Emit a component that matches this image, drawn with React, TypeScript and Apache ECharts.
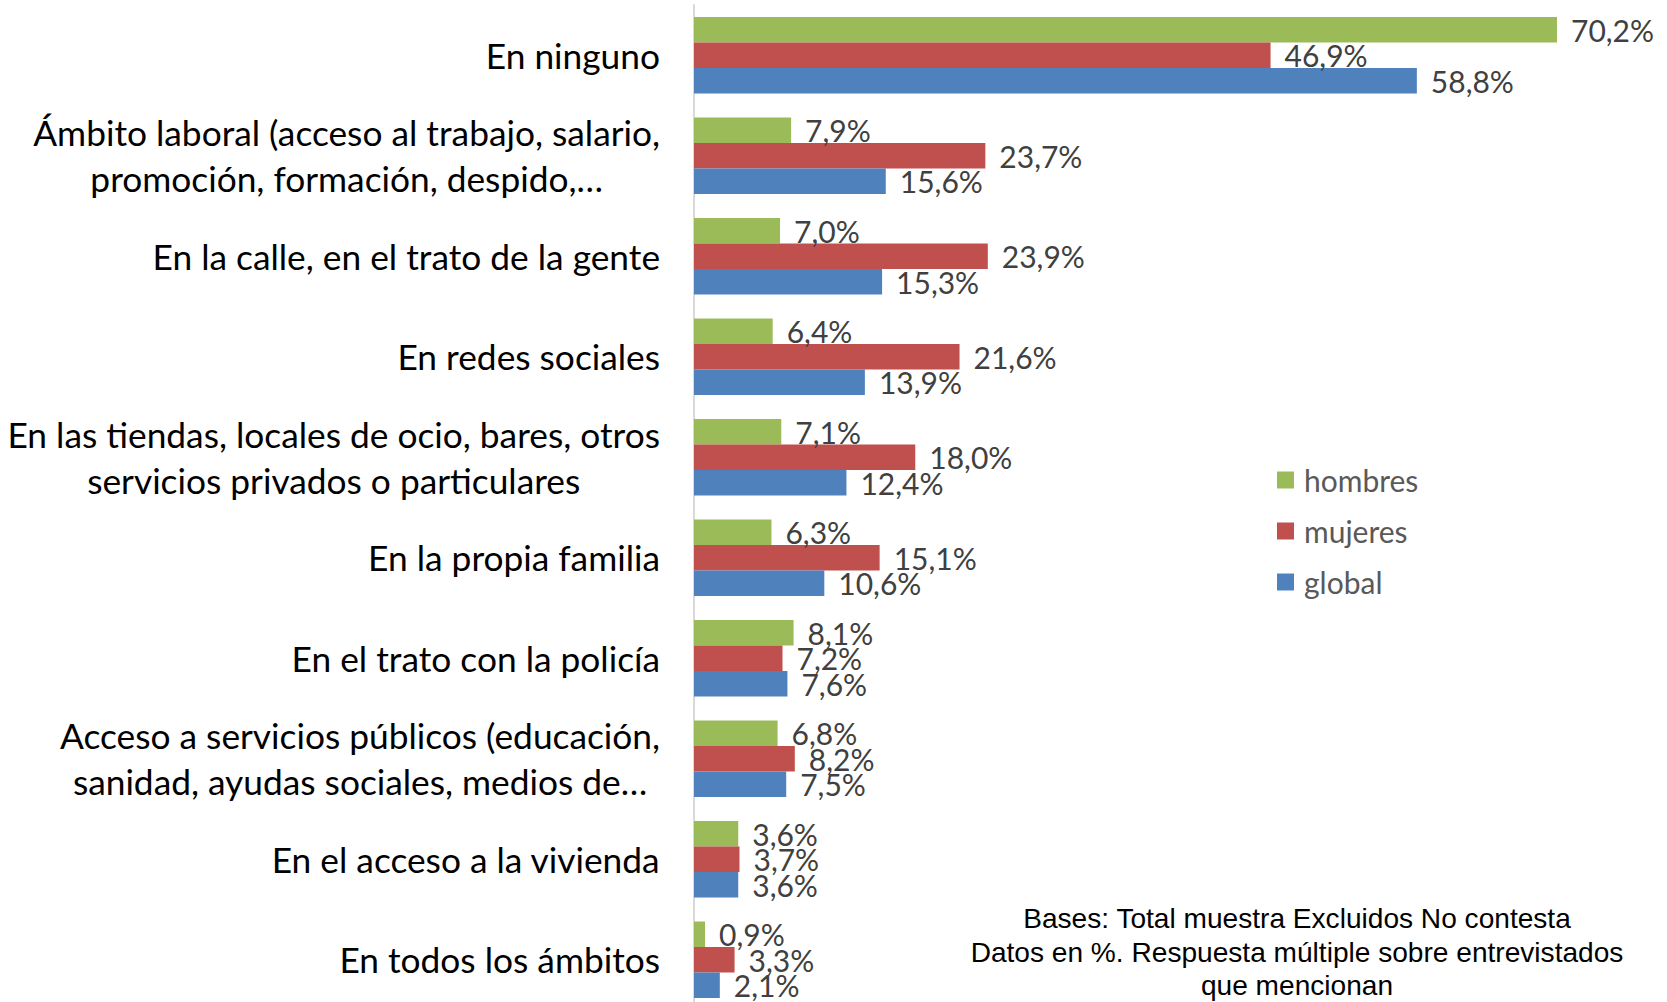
import React, { useEffect, useRef } from "react";
import * as echarts from "echarts";

const categories = [
  "En ninguno",
  "Ámbito laboral (acceso al trabajo, salario,\npromoción, formación, despido,…",
  "En la calle, en el trato de la gente",
  "En redes sociales",
  "En las tiendas, locales de ocio, bares, otros\nservicios privados o particulares",
  "En la propia familia",
  "En el trato con la policía",
  "Acceso a servicios públicos (educación,\nsanidad, ayudas sociales, medios de…",
  "En el acceso a la vivienda",
  "En todos los ámbitos",
];
const hombres = [70.2, 7.9, 7.0, 6.4, 7.1, 6.3, 8.1, 6.8, 3.6, 0.9];
const mujeres = [46.9, 23.7, 23.9, 21.6, 18.0, 15.1, 7.2, 8.2, 3.7, 3.3];
const global = [58.8, 15.6, 15.3, 13.9, 12.4, 10.6, 7.6, 7.5, 3.6, 2.1];
const seriesNames = ["hombres", "mujeres", "global"];
const noteLines = [
  "Bases: Total muestra Excluidos No contesta",
  "Datos en %. Respuesta múltiple sobre entrevistados",
  "que mencionan",
];

const FONT = "Lato, 'Open Sans', sans-serif";
const colors = ["#9BBB59", "#C0504D", "#4F81BD"];

const fmt = (v: number) => v.toFixed(1).replace(".", ",") + "%";

export default function App() {
  const ref = useRef<HTMLDivElement>(null);
  useEffect(() => {
    if (!ref.current) return;
    const chart = echarts.init(ref.current, null, { renderer: "svg" });
    const dataSets = [hombres, mujeres, global];
    chart.setOption({
      animation: false,
      backgroundColor: "#ffffff",
      grid: {
        left: 694,
        width: 922,
        top: 5,
        height: 1005,
        containLabel: false,
        outerBoundsMode: "none",
      },
      legend: {
        orient: "vertical",
        left: 1272,
        top: 458,
        itemWidth: 17,
        itemHeight: 17,
        itemGap: 17,
        icon: "rect",
        data: seriesNames,
        textStyle: {
          fontFamily: FONT,
          fontSize: 30,
          lineHeight: 34,
          color: "#595959",
          padding: [0, 0, 0, 5],
        },
      },
      xAxis: {
        type: "value",
        min: 0,
        max: 75,
        show: false,
        splitLine: { show: false },
      },
      yAxis: {
        type: "category",
        inverse: true,
        data: categories,
        axisTick: { show: false },
        axisLine: { show: true, lineStyle: { color: "#D9D9D9", width: 2 } },
        axisLabel: {
          margin: 34,
          align: "right",
          formatter: (v: string) =>
            v
              .split("\n")
              .map((l) => `{c|${l}}`)
              .join("\n"),
          rich: {
            c: {
              align: "center",
              fontFamily: FONT,
              fontSize: 35.3,
              lineHeight: 46,
              color: "#000000",
            },
          },
        },
      },
      series: seriesNames.map((name, i) => ({
        name,
        type: "bar",
        data: dataSets[i],
        barWidth: 25.5,
        barGap: "0%",
        itemStyle: { color: colors[i] },
        label: {
          show: true,
          position: "right",
          distance: 14,
          fontFamily: FONT,
          fontSize: 30,
          color: "#404040",
          formatter: (p: any) => fmt(p.value),
        },
      })),
      graphic: [
        {
          type: "text",
          x: 1297,
          y: 952,
          style: {
            text: noteLines.join("\n"),
            fontFamily: "'Liberation Sans', Arial, sans-serif",
            fontSize: 28.1,
            lineHeight: 33.5,
            fill: "#000000",
            textAlign: "center",
            textVerticalAlign: "middle",
          },
        },
      ],
    });
    return () => chart.dispose();
  }, []);
  return (
    <div
      ref={ref}
      style={{ position: "fixed", left: 0, top: 0, width: 1667, height: 1002 }}
    />
  );
}
